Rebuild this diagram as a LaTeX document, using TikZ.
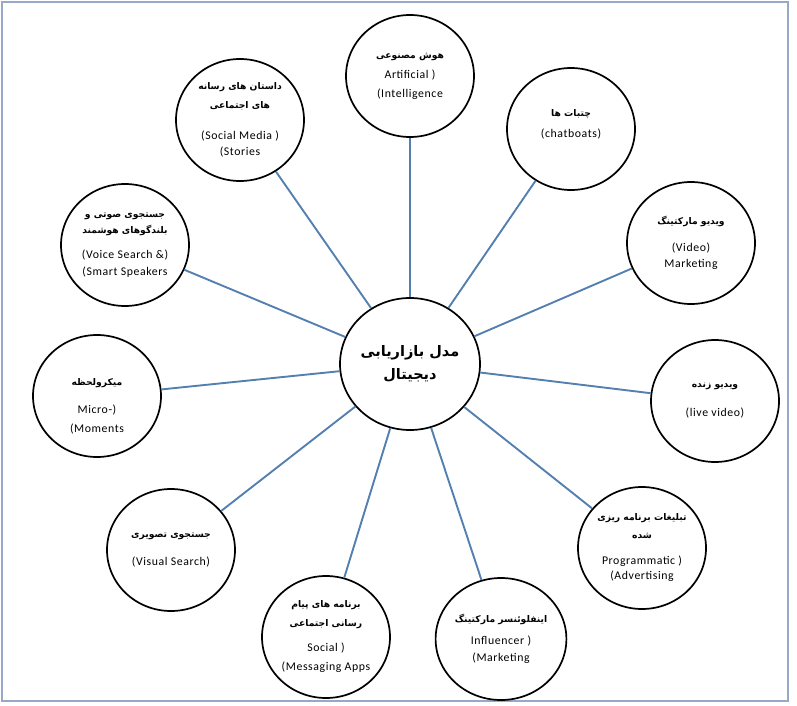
\documentclass[tikz,border=0pt]{standalone}
\usepackage{fontspec}
\usetikzlibrary{shapes.geometric}
\TeXXeTstate=1
\newfontfamily\fa[Script=Arabic]{DejaVu Sans}
\newfontfamily\en[LetterSpace=5]{Carlito}
\newcommand{\fl}[1]{{\fa\bfseries\fontsize{9.2}{11}\selectfont\beginR #1\endR}}
\newcommand{\el}[1]{{\en\fontsize{11.8}{12}\selectfont #1}}
\begin{document}
\begin{tikzpicture}[x=1pt,y=-1pt,
  bub/.style={ellipse, draw=black, line width=1.7pt, minimum width=128pt, minimum height=122pt, inner sep=0pt, fill=white, align=center},
  hub/.style={ellipse, draw=black, line width=1.7pt, minimum width=140pt, minimum height=132pt, inner sep=0pt, fill=white, align=center},
  txt/.style={align=center, inner sep=0pt},
  link/.style={draw={rgb,255:red,84;green,128;blue,176}, line width=1.9pt},
  frame/.style={draw={rgb,255:red,150;green,170;blue,200}, line width=1.2pt}]
\useasboundingbox (0,0) rectangle (797,706);
\draw[frame] (2,2) rectangle (788,701);

\node[hub] (c) at (410,364) {{\fa\bfseries\fontsize{14.5}{24}\selectfont\beginR مدل بازاریابی\endR}\\[8pt]{\fa\bfseries\fontsize{14.5}{24}\selectfont\beginR دیجیتال\endR}};

\node[bub] (ai) at (410,76) {\fl{هوش مصنوعی}\\[8pt]\el{Artificial )}\\[7pt]\el{(Intelligence}};
\node[bub] (sm) at (240,120) {\fl{داستان های رسانه}\\[7pt]\fl{های اجتماعی}\\[19pt]\el{(Social Media )}\\[4pt]\el{(Stories}};
\node[bub] (cb) at (571,129) {};
\node[txt] (cbT) at (571,124) {\fl{چتبات ها}\\[9pt]\el{(chatboats)}};
\node[bub] (vs) at (125,245) {\fl{جستجوی صوتی و}\\[4pt]\fl{بلندگوهای هوشمند}\\[13pt]\el{(Voice Search \&)}\\[5pt]\el{(Smart Speakers}};
\node[bub] (vm) at (691,243) {\fl{ویدیو مارکتینگ}\\[15pt]\el{(Video)}\\[4pt]\el{Marketing}};
\node[bub] (mm) at (97,396) {};
\node[txt] (mmT) at (97,406) {\fl{میکرولحظه}\\[16pt]\el{Micro-)}\\[7pt]\el{(Moments}};
\node[bub] (lv) at (715,401) {\fl{ویدیو زنده}\\[17pt]\el{(live video)}};
\node[bub] (vis) at (171,550) {\fl{جستجوی تصویری}\\[16pt]\el{(Visual Search)}};
\node[bub] (pa) at (642,548) {\fl{تبلیغات برنامه ریزی}\\[6pt]\fl{شده}\\[14pt]\el{Programmatic )}\\[3pt]\el{(Advertising}};
\node[bub] (sma) at (326,637) {\fl{برنامه های پیام}\\[7pt]\fl{رسانی اجتماعی}\\[13pt]\el{Social )}\\[7pt]\el{(Messaging Apps}};
\node[bub] (inf) at (501,639) {\fl{اینفلوئنسر مارکتینگ}\\[10pt]\el{Influencer )}\\[5pt]\el{(Marketing}};

\foreach \n in {ai,sm,cb,vs,vm,mm,lv,vis,pa,sma,inf}
  \draw[link] (c) -- (\n);
\end{tikzpicture}
\end{document}
